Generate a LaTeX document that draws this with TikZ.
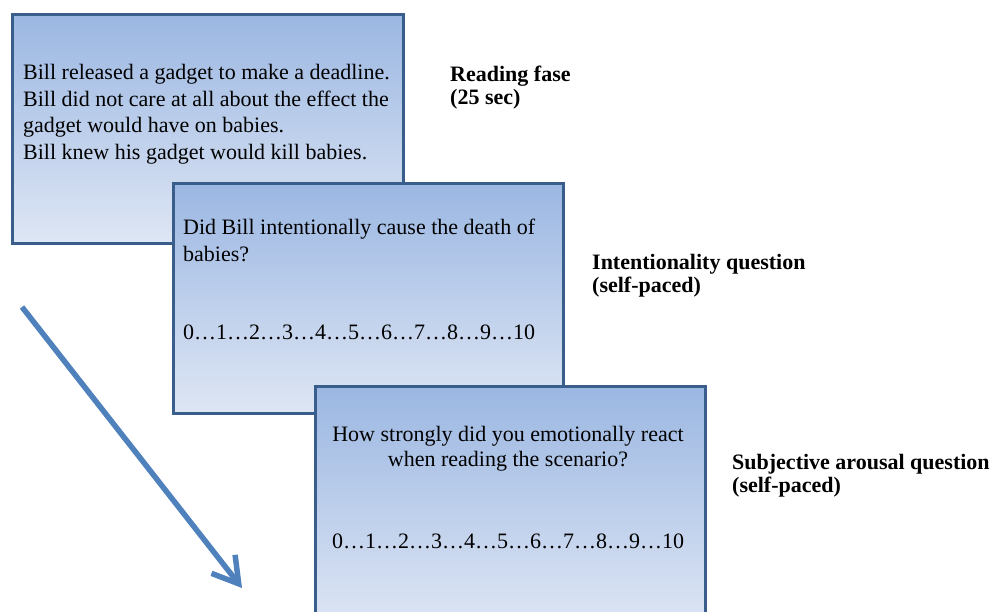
\documentclass[tikz,border=0pt]{standalone}
\usepackage{fontspec}
\setmainfont{Liberation Serif}
\usetikzlibrary{arrows.meta}
\definecolor{boxtop}{RGB}{155,183,226}
\definecolor{boxbot}{RGB}{222,230,244}
\definecolor{boxline}{RGB}{58,94,140}
\definecolor{arrowcol}{RGB}{79,129,189}
\tikzset{
  screen/.style={draw=boxline, line width=2.6pt, top color=boxtop, bottom color=boxbot, anchor=north west, inner sep=0pt},
  txt/.style={anchor=base west, inner sep=0pt, font=\fontsize{22}{27}\selectfont},
  ctxt/.style={anchor=base, inner sep=0pt, font=\fontsize{22}{27}\selectfont},
  lbl/.style={anchor=base west, inner sep=0pt, font=\fontsize{22}{27}\selectfont\bfseries},
}
\begin{document}
\begin{tikzpicture}[x=1pt,y=-1pt]
\useasboundingbox (0,0) rectangle (997,612);
\begin{scope}
\clip (0,0) rectangle (997,612);
% screen 1
\node[screen, minimum width=391pt, minimum height=229pt] (s1) at (11,13) {};
\node[txt] (t11) at (23,80) {Bill released a gadget to make a deadline.};
\node[txt] (t12) at (23,107) {Bill did not care at all about the effect the};
\node[txt] (t13) at (23,133) {gadget would have on babies.};
\node[txt] (t14) at (23,160) {Bill knew his gadget would kill babies.};
% screen 2
\node[screen, minimum width=390pt, minimum height=230pt] (s2) at (172,182) {};
\node[txt] (t21) at (183,235) {Did Bill intentionally cause the death of};
\node[txt] (t22) at (183,262) {babies?};
\node[txt] (t23) at (183,340) {0\dots1\dots2\dots3\dots4\dots5\dots6\dots7\dots8\dots9\dots10};
% screen 3
\node[screen, minimum width=390pt, minimum height=240pt] (s3) at (314,385) {};
\node[ctxt] (t31) at (508,442) {How strongly did you emotionally react};
\node[ctxt] (t32) at (508,467) {when reading the scenario?};
\node[ctxt] (t33) at (508,548) {0\dots1\dots2\dots3\dots4\dots5\dots6\dots7\dots8\dots9\dots10};
\end{scope}
% labels
\node[lbl] (l11) at (450,82) {Reading fase};
\node[lbl] (l12) at (450,105) {(25 sec)};
\node[lbl] (l21) at (592,270) {Intentionality question};
\node[lbl] (l22) at (592,293) {(self-paced)};
\node[lbl] (l31) at (732,470) {Subjective arousal question};
\node[lbl] (l32) at (732,493) {(self-paced)};
% arrow
\coordinate (a0) at (22,307);
\coordinate (a1) at (242,588);
\draw[arrowcol, line width=5.5pt, -{Straight Barb[length=25pt,width=30pt]}] (a0) -- (a1);
\end{tikzpicture}
\end{document}
